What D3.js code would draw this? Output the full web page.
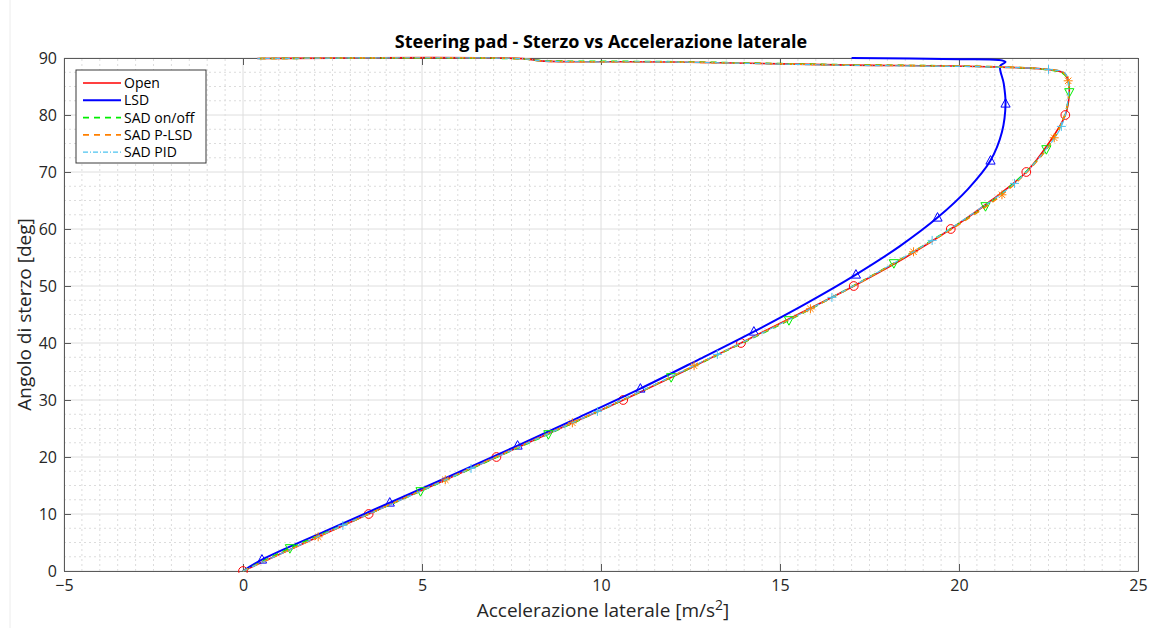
<!DOCTYPE html>
<html>
<head>
<meta charset="utf-8">
<script src="https://cdn.jsdelivr.net/npm/d3@7"></script>
<style>
  body { margin: 0; background: #fff; }
  text { font-family: "Open Sans", "Liberation Sans", sans-serif; }
</style>
</head>
<body>
<script>
const width = 1153;
const height = 628;

// [accelerazione laterale (m/s^2), angolo di sterzo (deg)]
const openData = [[0,0],[1.75,5],[3.51,10],[5.3,15],[7.08,20],[8.85,25],[10.62,30],[12.3,35],[13.91,40],
  [15.5,45],[17.06,50],[18.5,55],[19.77,60],[20.9,65],[21.88,70],[22.5,75],[22.97,80],[23.08,84],
  [23.05,86],[22.95,87.3],[22.6,87.9],[21.2,88.4],[16.6,88.8],[12,89.3],[8.3,89.5],[7.9,89.85],[0.4,89.9]];
const lsdData = [[0,0],[0.53,2],[2.3,7],[4.1,12],[5.9,17],[7.67,22],[9.4,27],[11.1,32],[12.7,37],[14.27,42],
  [15.75,47],[17.12,52],[18.35,57],[19.4,62],[20.25,67],[20.88,72],[21.2,77],[21.3,82],[21.25,85.5],
  [21.15,88.6],[21.3,89.3],[21.1,89.65],[20,89.8],[17,90]];
const onOffData = [[0,0],[1.31,4],[3.15,9],[4.96,14],[6.75,19],[8.53,24],[10.27,29],[11.96,34],[13.62,39],
  [15.25,44],[16.75,49],[18.18,54],[19.5,59],[20.74,64],[21.7,69],[22.44,74],[22.9,79],[23.08,84],
  [23.02,86.5],[22.85,87.5],[22.4,88],[21,88.45],[16.5,88.85],[12,89.35],[8.3,89.55],[7.8,89.85],[0.35,89.9]];
const plsdData = [[0,0],[2.1,6],[3.87,11],[5.65,16],[7.42,21],[9.2,26],[10.95,31],[12.6,36],[14.25,41],
  [15.85,46],[17.35,51],[18.73,56],[20.05,61],[21.2,66],[22.05,71],[22.66,76],[23.0,81],[23.05,86],
  [22.9,87.5],[22.5,88],[21.1,88.45],[16.6,88.8],[12,89.3],[8.3,89.5],[7.9,89.85],[0.4,89.9]];
const pidData = [[0,0],[1.05,3],[2.79,8],[4.6,13],[6.37,18],[8.15,23],[9.9,28],[11.6,33],[13.25,38],
  [14.9,43],[16.45,48],[17.9,53],[19.25,58],[20.45,63],[21.55,68],[22.3,73],[22.86,78],[23.05,83],
  [23.05,86],[22.95,87.4],[22.5,88.0],[21.1,88.4],[16.6,88.75],[12,89.3],[8.3,89.5],[7.9,89.85],[0.4,89.9]];

const openMarkers = [[0,0],[3.51,10],[7.08,20],[10.62,30],[13.91,40],[17.06,50],[19.77,60],[21.88,70],[22.97,80]];
const lsdMarkers = [[0.53,2],[4.1,12],[7.67,22],[11.1,32],[14.27,42],[17.12,52],[19.4,62],[20.88,72],[21.3,82]];
const onOffMarkers = [[1.31,4],[4.96,14],[8.53,24],[11.96,34],[15.25,44],[18.18,54],[20.74,64],[22.44,74],[23.08,84]];
const plsdMarkers = [[2.1,6],[5.65,16],[9.2,26],[12.6,36],[15.85,46],[18.73,56],[21.2,66],[22.66,76],[23.05,86]];
const pidMarkers = [[2.79,8],[6.37,18],[9.9,28],[13.25,38],[16.45,48],[19.25,58],[21.55,68],[22.86,78],[22.5,88.0]];

const seriesNames = ['Open', 'LSD', 'SAD on/off', 'SAD P-LSD', 'SAD PID'];
const xTicks = [-5, 0, 5, 10, 15, 20, 25];
const yTicks = [0, 10, 20, 30, 40, 50, 60, 70, 80, 90];

const series = [
  { name: seriesNames[0], data: openData, markers: openMarkers, color: '#ff0000', w: 1.6, dash: null, marker: 'circle' },
  { name: seriesNames[1], data: lsdData, markers: lsdMarkers, color: '#0000ff', w: 2, dash: null, marker: 'tri-up' },
  { name: seriesNames[2], data: onOffData, markers: onOffMarkers, color: '#00ee00', w: 1.6, dash: '6,5', marker: 'tri-down' },
  { name: seriesNames[3], data: plsdData, markers: plsdMarkers, color: '#ff8000', w: 1.6, dash: '6,5', marker: 'asterisk' },
  { name: seriesNames[4], data: pidData, markers: pidMarkers, color: '#4dc3f0', w: 1.2, dash: '5,2,1,2', marker: 'plus' }
];

const margin = { left: 64, top: 58, right: 15, bottom: 57 };
const x = d3.scaleLinear().domain([-5, 25]).range([margin.left, width - margin.right]);
const y = d3.scaleLinear().domain([0, 90]).range([height - margin.bottom, margin.top]);

const svg = d3.create('svg')
  .attr('width', width)
  .attr('height', height)
  .style('background-color', '#fff');
document.body.appendChild(svg.node());

// faint page border from screenshot
svg.append('line').attr('x1', 10).attr('x2', 10).attr('y1', 0).attr('y2', height)
  .attr('stroke', '#ececec');

const x0 = x.range()[0], x1 = x.range()[1], y0 = y.range()[0], y1 = y.range()[1];

// minor grid
const xMinor = d3.range(-5, 25.01, 0.5).filter(v => v % 5 !== 0);
const yMinor = d3.range(0, 90.01, 2.5).filter(v => v % 10 !== 0);
svg.append('g').selectAll('line').data(xMinor).enter().append('line')
  .attr('x1', d => x(d)).attr('x2', d => x(d)).attr('y1', y0).attr('y2', y1)
  .attr('stroke', '#dcdcdc').attr('stroke-width', 1).attr('stroke-dasharray', '2,3');
svg.append('g').selectAll('line').data(yMinor).enter().append('line')
  .attr('y1', d => y(d)).attr('y2', d => y(d)).attr('x1', x0).attr('x2', x1)
  .attr('stroke', '#dcdcdc').attr('stroke-width', 1).attr('stroke-dasharray', '2,3');

// major grid
svg.append('g').selectAll('line').data(xTicks).enter().append('line')
  .attr('x1', d => x(d)).attr('x2', d => x(d)).attr('y1', y0).attr('y2', y1)
  .attr('stroke', '#dedede').attr('stroke-width', 1);
svg.append('g').selectAll('line').data(yTicks).enter().append('line')
  .attr('y1', d => y(d)).attr('y2', d => y(d)).attr('x1', x0).attr('x2', x1)
  .attr('stroke', '#dedede').attr('stroke-width', 1);

// axes (ticks inside, box on)
const axisColor = '#5a5a5a';
function styleAxis(g) {
  g.select('.domain').attr('stroke', axisColor);
  g.selectAll('.tick line').attr('stroke', axisColor);
  g.selectAll('.tick text').attr('fill', '#262626').style('font-size', '16px')
    .style('font-family', '"Open Sans", sans-serif');
}
svg.append('g').attr('transform', `translate(0,${y0})`)
  .call(d3.axisBottom(x).tickValues(xTicks).tickSize(-7).tickSizeOuter(0).tickPadding(9))
  .call(styleAxis);
svg.append('g').attr('transform', `translate(0,${y1})`)
  .call(d3.axisTop(x).tickValues(xTicks).tickSize(-7).tickSizeOuter(0).tickFormat(''))
  .call(styleAxis);
svg.append('g').attr('transform', `translate(${x0},0)`)
  .call(d3.axisLeft(y).tickValues(yTicks).tickSize(-7).tickSizeOuter(0).tickPadding(7))
  .call(styleAxis);
svg.append('g').attr('transform', `translate(${x1},0)`)
  .call(d3.axisRight(y).tickValues(yTicks).tickSize(-7).tickSizeOuter(0).tickFormat(''))
  .call(styleAxis);

// clip
svg.append('clipPath').attr('id', 'clip').append('rect')
  .attr('x', x0).attr('y', y1 - 2).attr('width', x1 - x0).attr('height', y0 - y1 + 4);

const line = d3.line().x(d => x(d[0])).y(d => y(d[1])).curve(d3.curveCatmullRom.alpha(0.5));
const plot = svg.append('g').attr('clip-path', 'url(#clip)');

function markerPath(type) {
  if (type === 'circle') return d3.symbol(d3.symbolCircle, 60)();
  if (type === 'tri-up') return 'M0,-5L4.6,3.5L-4.6,3.5Z';
  if (type === 'tri-down') return 'M0,5L4.6,-3.5L-4.6,-3.5Z';
  if (type === 'plus') return 'M-4.5,0H4.5M0,-4.5V4.5';
  if (type === 'asterisk') return 'M-4.5,0H4.5M0,-4.5V4.5M-3.2,-3.2L3.2,3.2M-3.2,3.2L3.2,-3.2';
}

series.forEach(s => {
  plot.append('path')
    .datum(s.data)
    .attr('d', line)
    .attr('fill', 'none')
    .attr('stroke', s.color)
    .attr('stroke-width', s.w)
    .attr('stroke-dasharray', s.dash);
  plot.append('g').selectAll('path').data(s.markers).enter().append('path')
    .attr('transform', d => `translate(${x(d[0])},${y(d[1])})`)
    .attr('d', markerPath(s.marker))
    .attr('fill', 'none')
    .attr('stroke', s.color)
    .attr('stroke-width', 1);
});

// title & labels
svg.append('text').attr('x', (x0 + x1) / 2).attr('y', 48)
  .attr('text-anchor', 'middle').style('font-size', '18px').style('font-weight', 'bold')
  .attr('fill', '#000').text('Steering pad - Sterzo vs Accelerazione laterale');

const xl = svg.append('text').attr('x', (x0 + x1) / 2 + 2).attr('y', 617)
  .attr('text-anchor', 'middle').style('font-size', '19px').attr('fill', '#262626');
xl.append('tspan').text('Accelerazione laterale [m/s');
xl.append('tspan').attr('dy', -7).style('font-size', '14px').text('2');
xl.append('tspan').attr('dy', 7).text(']');

svg.append('text').attr('transform', `translate(31,${(y0 + y1) / 2}) rotate(-90)`)
  .attr('text-anchor', 'middle').style('font-size', '19px').attr('fill', '#262626')
  .text('Angolo di sterzo [deg]');

// legend
const legend = svg.append('g').attr('transform', 'translate(76,70)');
legend.append('rect').attr('width', 130).attr('height', 93)
  .attr('fill', '#fff').attr('stroke', '#3a3a3a').attr('stroke-width', 1);
series.forEach((s, i) => {
  const ly = 13 + i * 17.3;
  legend.append('line').attr('x1', 7).attr('x2', 45).attr('y1', ly).attr('y2', ly)
    .attr('stroke', s.color).attr('stroke-width', s.w)
    .attr('stroke-dasharray', s.dash);
  legend.append('text').attr('x', 48).attr('y', ly + 5)
    .style('font-size', '14px').attr('fill', '#000').text(s.name);
});
</script>
</body>
</html>
